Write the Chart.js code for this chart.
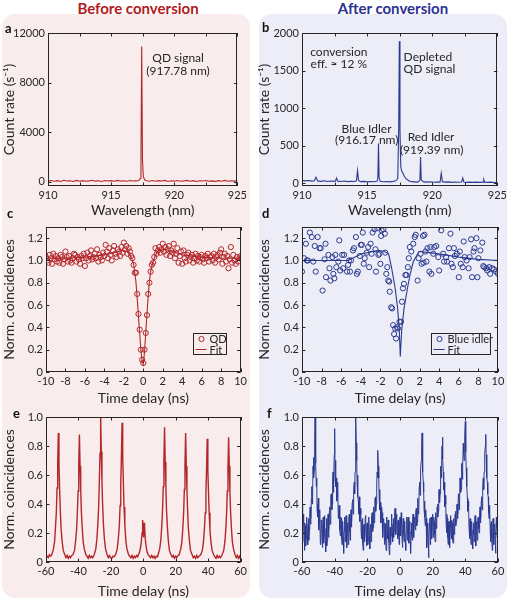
<!DOCTYPE html>
<html>
<head>
<meta charset="utf-8">
<script src="https://cdn.jsdelivr.net/npm/chart.js@4.4.1/dist/chart.umd.min.js"></script>
<style>
    body { margin: 0; background: #fff; }
    #fig { position: relative; width: 510px; height: 600px; overflow: hidden; font-family: Lato, sans-serif; }
    .panel { position: absolute; top: 14px; height: 584px; width: 248px; border-radius: 13px; }
    .head { position: absolute; top: -1px; width: 200px; text-align: center; font-weight: bold; font-size: 15px; line-height: 18px; }
    canvas { position: absolute; }
</style>
</head>
<body>
<div id="fig">
    <div class="panel" style="left:2px;background:#f8ecec"></div>
    <div class="panel" style="left:259px;background:#ecedf6"></div>
    <div class="head" style="left:38px;color:#b01c1e">Before conversion</div>
    <div class="head" style="left:293px;color:#2e3192">After conversion</div>
    <canvas id="spectrum-before" width="250" height="200" style="left:0;top:20px"></canvas>
    <canvas id="spectrum-after" width="254" height="200" style="left:256px;top:20px"></canvas>
    <canvas id="g2-qd" width="250" height="203" style="left:0;top:205px"></canvas>
    <canvas id="g2-idler" width="254" height="203" style="left:256px;top:205px"></canvas>
    <canvas id="hom-qd" width="250" height="200" style="left:0;top:400px"></canvas>
    <canvas id="hom-idler" width="254" height="200" style="left:256px;top:400px"></canvas>
</div>
<script>
'use strict';

// a: spectrum before conversion
const waveBefore = [910, 910.25, 910.5, 910.75, 911, 911.25, 911.5, 911.75, 912, 912.25, 912.5, 912.75,
    913, 913.25, 913.5, 913.75, 914, 914.25, 914.5, 914.75, 915, 915.25, 915.5, 915.75, 916, 916.25,
    916.5, 916.75, 917, 917.2, 917.3, 917.36, 917.42, 917.48, 917.55, 917.65, 917.8, 918, 918.25,
    918.5, 918.75, 919, 919.25, 919.5, 919.75, 920, 920.25, 920.5, 920.75, 921, 921.25, 921.5, 921.75,
    922, 922.25, 922.5, 922.75, 923, 923.25, 923.5, 923.75, 924, 924.25, 924.5, 924.75, 925];
const countBefore = [40, 90, 30, 80, 20, 110, 50, 70, 20, 100, 40, 80,
    30, 60, 110, 40, 70, 20, 90, 50, 80, 30, 100, 40, 70, 30,
    90, 50, 60, 90, 250, 1500, 10900, 1800, 400, 150, 80, 40, 90,
    30, 80, 50, 100, 20, 70, 40, 90, 30, 60, 100, 40, 80, 20,
    70, 50, 90, 30, 60, 20, 80, 40, 100, 30, 70, 40, 60];

// b: spectrum after conversion
const waveAfter = [910, 910.25, 910.5, 910.75, 910.95, 911.07, 911.2, 911.45, 911.7, 911.95, 912.2, 912.45,
    912.58, 912.65, 912.75, 913, 913.25, 913.5, 913.75, 914, 914.18, 914.26, 914.34, 914.5, 914.75,
    915, 915.25, 915.5, 915.75, 915.82, 915.87, 915.92, 916, 916.25, 916.5, 916.75, 917, 917.2,
    917.35, 917.42, 917.47, 917.52, 917.58, 917.65, 917.75, 917.85, 918, 918.2, 918.4, 918.65, 918.9,
    919.05, 919.1, 919.15, 919.35, 919.6, 919.85, 920.1, 920.35, 920.6, 920.69, 920.78, 921, 921.25,
    921.5, 921.75, 922, 922.25, 922.34, 922.42, 922.65, 922.9, 923.15, 923.4, 923.65, 923.9, 923.95,
    924.02, 924.25, 924.5, 924.75, 925];
const countAfter = [35, 28, 33, 25, 30, 75, 28, 22, 30, 20, 26, 22,
    30, 65, 25, 20, 26, 18, 24, 20, 30, 165, 35, 18, 22,
    15, 20, 16, 22, 60, 525, 70, 22, 16, 20, 15, 22, 30,
    60, 700, 1890, 700, 220, 160, 130, 90, 55, 30, 18, 15, 12,
    40, 345, 40, 15, 12, 16, 10, 14, 12, 130, 18, 12, 15,
    8, 13, 10, 14, 65, 12, 9, 12, 8, 11, 9, 12, 45,
    10, 8, 11, 7, 9];

// c: QD autocorrelation
const qdDelay = [
    -10, -9.875, -9.75, -9.625, -9.5, -9.375, -9.25, -9.125,
    -9, -8.875, -8.75, -8.625, -8.5, -8.375, -8.25, -8.125,
    -8, -7.875, -7.75, -7.625, -7.5, -7.375, -7.25, -7.125,
    -7, -6.875, -6.75, -6.625, -6.5, -6.375, -6.25, -6.125,
    -6, -5.875, -5.75, -5.625, -5.5, -5.375, -5.25, -5.125,
    -5, -4.875, -4.75, -4.625, -4.5, -4.375, -4.25, -4.125,
    -4, -3.875, -3.75, -3.625, -3.5, -3.375, -3.25, -3.125,
    -3, -2.875, -2.75, -2.625, -2.5, -2.375, -2.25, -2.125,
    -2, -1.875, -1.75, -1.625, -1.5, -1.375, -1.25, -1.125,
    -1, -0.875, -0.75, -0.625, -0.5, -0.375, -0.25, -0.125,
    0, 0.125, 0.25, 0.375, 0.5, 0.625, 0.75, 0.875,
    1, 1.125, 1.25, 1.375, 1.5, 1.625, 1.75, 1.875,
    2, 2.125, 2.25, 2.375, 2.5, 2.625, 2.75, 2.875,
    3, 3.125, 3.25, 3.375, 3.5, 3.625, 3.75, 3.875,
    4, 4.125, 4.25, 4.375, 4.5, 4.625, 4.75, 4.875,
    5, 5.125, 5.25, 5.375, 5.5, 5.625, 5.75, 5.875,
    6, 6.125, 6.25, 6.375, 6.5, 6.625, 6.75, 6.875,
    7, 7.125, 7.25, 7.375, 7.5, 7.625, 7.75, 7.875,
    8, 8.125, 8.25, 8.375, 8.5, 8.625, 8.75, 8.875,
    9, 9.125, 9.25, 9.375, 9.5, 9.625, 9.75, 9.875,
    10];
const qdCoinc = [
    1.03, 1.00, 0.98, 1.05, 1.02, 0.97, 1.06, 1.01,
    1.04, 0.99, 1.02, 0.98, 1.05, 1.03, 0.97, 1.01,
    1.08, 1.03, 0.99, 1.04, 1.00, 0.98, 1.02, 1.06,
    1.05, 0.99, 1.03, 1.01, 0.97, 1.04, 1.02, 1.06,
    0.95, 1.02, 1.07, 1.00, 1.04, 1.09, 1.01, 1.03,
    1.06, 1.02, 1.10, 0.99, 1.05, 1.03, 1.00, 1.07,
    1.04, 1.14, 1.08, 1.02, 1.11, 1.05, 1.00, 1.09,
    1.13, 1.06, 1.03, 1.10, 1.08, 1.04, 1.12, 1.07,
    1.16, 1.10, 1.13, 1.06, 1.11, 1.08, 1.04, 1.02,
    0.96, 0.89, 0.89, 0.70, 0.52, 0.38, 0.20, 0.11,
    0.08, 0.20, 0.35, 0.51, 0.70, 0.80, 0.90, 0.96,
    0.98, 1.03, 1.11, 1.06, 1.09, 1.12, 1.07, 1.10,
    1.15, 1.08, 1.12, 1.05, 1.10, 1.13, 1.04, 1.09,
    1.07, 1.15, 1.02, 1.06, 1.11, 0.98, 1.04, 1.08,
    0.97, 1.09, 1.02, 0.99, 1.05, 1.07, 1.00, 1.03,
    1.05, 0.98, 1.02, 1.06, 1.00, 1.04, 0.99, 1.03,
    1.05, 1.01, 0.98, 1.04, 1.02, 1.06, 0.99, 1.03,
    1.04, 1.00, 1.06, 0.98, 1.03, 1.05, 1.01, 1.07,
    1.10, 0.97, 1.03, 1.06, 0.99, 1.04, 0.93, 1.01,
    1.12, 0.98, 1.05, 1.00, 0.97, 1.03, 0.99, 1.02,
    1.04];
const qdFitDelay = [-10, -8, -6, -4, -3, -2.2, -1.6, -1.25, -1, -0.875, -0.75, -0.625, -0.5, -0.375,
    -0.25, -0.125, 0, 0.125, 0.25, 0.375, 0.5, 0.625, 0.75, 0.875, 1, 1.25, 1.6, 2.2, 3, 4, 6, 8, 10];
const qdFit = [1.02, 1.02, 1.03, 1.05, 1.07, 1.09, 1.08, 1.03, 0.97, 0.89, 0.80, 0.66, 0.50, 0.35,
    0.20, 0.10, 0.07, 0.18, 0.35, 0.52, 0.68, 0.81, 0.90, 0.95, 0.99, 1.05, 1.09, 1.10, 1.08, 1.05, 1.03, 1.02, 1.02];

// d: blue idler autocorrelation
const idlerDelay = [-10, -9.8, -9.6, -9.5, -9.4, -9.2, -9, -8.85, -8.7, -8.6, -8.4, -8.2, -8.1,
    -7.9, -7.7, -7.6, -7.55, -7.3, -7.2, -7.1, -6.9, -6.8, -6.7, -6.6, -6.5, -6.3, -6.2, -6.1,
    -5.9, -5.8, -5.7, -5.4, -5.3, -5.2, -5.1, -5, -4.8, -4.7, -4.5, -4.4, -4.3, -4.1, -4, -3.9,
    -3.8, -3.7, -3.6, -3.4, -3.25, -3.15, -3, -2.9, -2.8, -2.6, -2.5, -2.45, -2.3, -2.2, -2.1, -2,
    -1.92, -1.88, -1.7, -1.55, -1.5, -1.4, -1.3, -1.2, -1.1, -1.05, -0.9, -0.8, -0.7, -0.6, -0.5,
    -0.4, -0.3, -0.2, -0.05, 0.1, 0.2, 0.3, 0.4, 0.55, 0.65, 0.8, 0.9, 1, 1.15, 1.35, 1.5, 1.6,
    1.8, 1.9, 2.1, 2.2, 2.35, 2.4, 2.5, 2.6, 2.7, 2.8, 3, 3.1, 3.2, 3.4, 3.5, 3.7, 3.9, 4, 4.2,
    4.4, 4.5, 4.7, 4.8, 5, 5.15, 5.25, 5.4, 5.5, 5.6, 5.8, 6, 6.1, 6.2, 6.4, 6.5, 6.6, 6.8, 7,
    7.1, 7.25, 7.35, 7.5, 7.6, 7.8, 7.9, 8, 8.2, 8.4, 8.5, 8.6, 8.8, 8.9, 9.1, 9.2, 9.4, 9.6, 9.8, 10];
const idlerCoinc = [0.90, 1.02, 1.15, 1.00, 1.00, 1.25, 1.21, 0.99, 1.13, 0.90, 1.21, 1.11, 1.11,
    0.73, 1.01, 1.15, 0.85, 1.05, 0.93, 0.82, 1.03, 0.88, 0.84, 1.05, 0.94, 0.99, 1.18, 0.91,
    1.05, 0.93, 1.05, 0.90, 0.96, 1.00, 0.90, 1.00, 1.09, 1.11, 1.21, 0.88, 0.90, 1.04, 1.14, 1.14,
    1.25, 0.97, 1.02, 1.07, 1.12, 0.94, 1.15, 1.06, 1.25, 1.28, 1.10, 0.90, 1.29, 1.05, 1.06, 0.97,
    1.22, 1.27, 1.28, 1.24, 1.07, 0.88, 0.94, 0.82, 0.81, 0.72, 0.58, 0.57, 0.42, 0.34, 0.39,
    0.30, 0.40, 0.39, 0.45, 0.45, 0.63, 0.75, 0.79, 0.87, 0.87, 0.94, 1.02, 1.12, 1.08, 1.15, 1.21, 1.23,
    0.82, 1.02, 1.06, 0.97, 1.22, 0.98, 1.23, 1.08, 0.99, 1.11, 0.90, 1.12, 0.88, 1.06, 1.12, 1.13, 1.03, 0.91, 1.27,
    1.06, 0.99, 1.03, 0.99, 1.11, 1.24, 0.97, 0.94, 1.11, 1.04, 1.06, 0.85, 1.08, 0.97, 0.94, 1.17, 1.03, 1.00, 0.93,
    1.03, 1.19, 0.85, 1.08, 1.11, 1.20, 0.85, 1.02, 1.09, 1.16, 0.95, 0.94, 0.93, 0.91, 0.94, 0.88, 0.93, 0.92, 0.90, 0.88];
const idlerFitDelay = [-10, -7, -5.3, -3.9, -2.2, -1.6, -1.16, -0.85, -0.51, -0.24, -0.07, 0.03, 0.17,
    0.41, 0.78, 1.02, 1.36, 1.94, 3, 4.6, 6, 8, 10];
const idlerFit = [1.0, 1.0, 1.0, 1.06, 1.09, 1.08, 1.06, 0.93, 0.76, 0.57, 0.37, 0.14, 0.37,
    0.57, 0.76, 0.87, 0.99, 1.08, 1.07, 1.05, 1.03, 1.01, 1.0];

// e: QD two-photon interference
const homDelayQd = [-60, -59.3, -58.6, -57.9, -57.2,
    -56.4, -55.4, -54.7, -54.1, -53.6, -53.2, -52.8, -52.4, -52, -51.6, -51.2, -50.7, -50.1, -49.4, -48.4,
    -47.7, -47, -46.3, -45.6, -44.9, -44.2,
    -43.4, -42.4, -41.7, -41.1, -40.6, -40.2, -39.8, -39.4, -39, -38.6, -38.2, -37.7, -37.1, -36.4, -35.4,
    -34.7, -34, -33.3, -32.6, -31.9, -31.2,
    -30.3, -29.3, -28.6, -28, -27.5, -27.1, -26.7, -26.3, -25.9, -25.5, -25.1, -24.6, -24, -23.3, -22.3,
    -21.6, -20.9, -20.2, -19.5, -18.8, -18.1,
    -17.1, -16.1, -15.4, -14.8, -14.3, -13.9, -13.5, -13.1, -12.7, -12.3, -11.9, -11.4, -10.8, -10.1, -9.1,
    -8.4, -7.7, -7, -6.3, -5.6, -4.9, -4.2, -3.5,
    -3, -2.3, -1.7, -1.2, -0.8, -0.4, -0.1, 0.2, 0.5, 0.8, 1.2, 1.7, 2.3, 3, 3.8,
    4.5, 5.2, 5.9, 6.6, 7.3, 8, 8.7,
    9.1, 10.1, 10.8, 11.4, 11.9, 12.3, 12.7, 13.1, 13.5, 13.9, 14.3, 14.8, 15.4, 16.1, 17.1,
    17.8, 18.5, 19.2, 19.9, 20.6, 21.3,
    22.1, 23.1, 23.8, 24.4, 24.9, 25.3, 25.7, 26.1, 26.5, 26.9, 27.3, 27.8, 28.4, 29.1, 30.1,
    30.8, 31.5, 32.2, 32.9, 33.6, 34.3,
    35.4, 36.4, 37.1, 37.7, 38.2, 38.6, 39, 39.4, 39.8, 40.2, 40.6, 41.1, 41.7, 42.4, 43.4,
    44.1, 44.8, 45.5, 46.2, 46.9, 47.6,
    48.6, 49.6, 50.3, 50.9, 51.4, 51.8, 52.2, 52.6, 53, 53.4, 53.8, 54.3, 54.9, 55.6, 56.6,
    57.3, 58, 58.7, 59.4, 60];
const homCoincQd = [0.03, 0.04, 0.03, 0.05, 0.04,
    0.05, 0.09, 0.14, 0.25, 0.35, 0.51, 0.67, 0.89, 0.68, 0.50, 0.36, 0.23, 0.15, 0.08, 0.05,
    0.03, 0.045, 0.025, 0.04, 0.03, 0.045,
    0.05, 0.08, 0.15, 0.23, 0.36, 0.49, 0.67, 0.88, 0.66, 0.50, 0.35, 0.24, 0.14, 0.09, 0.05,
    0.04, 0.025, 0.045, 0.03, 0.04, 0.03,
    0.05, 0.09, 0.16, 0.27, 0.39, 0.56, 0.75, 1.0, 0.76, 0.55, 0.40, 0.26, 0.16, 0.09, 0.05,
    0.03, 0.045, 0.03, 0.025, 0.04, 0.035,
    0.05, 0.09, 0.16, 0.25, 0.39, 0.54, 0.73, 0.96, 0.72, 0.55, 0.38, 0.26, 0.15, 0.09, 0.05,
    0.04, 0.03, 0.045, 0.025, 0.04, 0.03, 0.045, 0.035,
    0.05, 0.07, 0.10, 0.14, 0.20, 0.29, 0.20, 0.17, 0.27, 0.24, 0.16, 0.11, 0.07, 0.05, 0.04,
    0.03, 0.045, 0.03, 0.04, 0.025, 0.04, 0.035,
    0.05, 0.09, 0.15, 0.25, 0.37, 0.52, 0.70, 0.93, 0.69, 0.53, 0.36, 0.25, 0.15, 0.08, 0.05,
    0.035, 0.045, 0.025, 0.04, 0.03, 0.045,
    0.05, 0.09, 0.14, 0.24, 0.35, 0.50, 0.67, 0.89, 0.66, 0.50, 0.36, 0.23, 0.15, 0.08, 0.05,
    0.03, 0.04, 0.025, 0.045, 0.03, 0.04,
    0.05, 0.08, 0.14, 0.23, 0.34, 0.48, 0.64, 0.85, 0.63, 0.48, 0.34, 0.22, 0.14, 0.08, 0.05,
    0.035, 0.025, 0.045, 0.03, 0.04, 0.03,
    0.05, 0.08, 0.14, 0.23, 0.35, 0.49, 0.65, 0.86, 0.66, 0.48, 0.35, 0.24, 0.14, 0.09, 0.05,
    0.03, 0.045, 0.025, 0.04, 0.02];

// f: blue idler two-photon interference (0.25 ns bins)
const homDelayIdler = [
    -60, -59.75, -59.5, -59.25, -59, -58.75, -58.5, -58.25, -58, -57.75, -57.5, -57.25, -57, -56.75, -56.5, -56.25, -56, -55.75, -55.5, -55.25,
    -55, -54.75, -54.5, -54.25, -54, -53.75, -53.5, -53.25, -53, -52.75, -52.5, -52.25, -52, -51.75, -51.5, -51.25, -51, -50.75, -50.5, -50.25,
    -50, -49.75, -49.5, -49.25, -49, -48.75, -48.5, -48.25, -48, -47.75, -47.5, -47.25, -47, -46.75, -46.5, -46.25, -46, -45.75, -45.5, -45.25,
    -45, -44.75, -44.5, -44.25, -44, -43.75, -43.5, -43.25, -43, -42.75, -42.5, -42.25, -42, -41.75, -41.5, -41.25, -41, -40.75, -40.5, -40.25,
    -40, -39.75, -39.5, -39.25, -39, -38.75, -38.5, -38.25, -38, -37.75, -37.5, -37.25, -37, -36.75, -36.5, -36.25, -36, -35.75, -35.5, -35.25,
    -35, -34.75, -34.5, -34.25, -34, -33.75, -33.5, -33.25, -33, -32.75, -32.5, -32.25, -32, -31.75, -31.5, -31.25, -31, -30.75, -30.5, -30.25,
    -30, -29.75, -29.5, -29.25, -29, -28.75, -28.5, -28.25, -28, -27.75, -27.5, -27.25, -27, -26.75, -26.5, -26.25, -26, -25.75, -25.5, -25.25,
    -25, -24.75, -24.5, -24.25, -24, -23.75, -23.5, -23.25, -23, -22.75, -22.5, -22.25, -22, -21.75, -21.5, -21.25, -21, -20.75, -20.5, -20.25,
    -20, -19.75, -19.5, -19.25, -19, -18.75, -18.5, -18.25, -18, -17.75, -17.5, -17.25, -17, -16.75, -16.5, -16.25, -16, -15.75, -15.5, -15.25,
    -15, -14.75, -14.5, -14.25, -14, -13.75, -13.5, -13.25, -13, -12.75, -12.5, -12.25, -12, -11.75, -11.5, -11.25, -11, -10.75, -10.5, -10.25,
    -10, -9.75, -9.5, -9.25, -9, -8.75, -8.5, -8.25, -8, -7.75, -7.5, -7.25, -7, -6.75, -6.5, -6.25, -6, -5.75, -5.5, -5.25,
    -5, -4.75, -4.5, -4.25, -4, -3.75, -3.5, -3.25, -3, -2.75, -2.5, -2.25, -2, -1.75, -1.5, -1.25, -1, -0.75, -0.5, -0.25,
    0, 0.25, 0.5, 0.75, 1, 1.25, 1.5, 1.75, 2, 2.25, 2.5, 2.75, 3, 3.25, 3.5, 3.75, 4, 4.25, 4.5, 4.75,
    5, 5.25, 5.5, 5.75, 6, 6.25, 6.5, 6.75, 7, 7.25, 7.5, 7.75, 8, 8.25, 8.5, 8.75, 9, 9.25, 9.5, 9.75,
    10, 10.25, 10.5, 10.75, 11, 11.25, 11.5, 11.75, 12, 12.25, 12.5, 12.75, 13, 13.25, 13.5, 13.75, 14, 14.25, 14.5, 14.75,
    15, 15.25, 15.5, 15.75, 16, 16.25, 16.5, 16.75, 17, 17.25, 17.5, 17.75, 18, 18.25, 18.5, 18.75, 19, 19.25, 19.5, 19.75,
    20, 20.25, 20.5, 20.75, 21, 21.25, 21.5, 21.75, 22, 22.25, 22.5, 22.75, 23, 23.25, 23.5, 23.75, 24, 24.25, 24.5, 24.75,
    25, 25.25, 25.5, 25.75, 26, 26.25, 26.5, 26.75, 27, 27.25, 27.5, 27.75, 28, 28.25, 28.5, 28.75, 29, 29.25, 29.5, 29.75,
    30, 30.25, 30.5, 30.75, 31, 31.25, 31.5, 31.75, 32, 32.25, 32.5, 32.75, 33, 33.25, 33.5, 33.75, 34, 34.25, 34.5, 34.75,
    35, 35.25, 35.5, 35.75, 36, 36.25, 36.5, 36.75, 37, 37.25, 37.5, 37.75, 38, 38.25, 38.5, 38.75, 39, 39.25, 39.5, 39.75,
    40, 40.25, 40.5, 40.75, 41, 41.25, 41.5, 41.75, 42, 42.25, 42.5, 42.75, 43, 43.25, 43.5, 43.75, 44, 44.25, 44.5, 44.75,
    45, 45.25, 45.5, 45.75, 46, 46.25, 46.5, 46.75, 47, 47.25, 47.5, 47.75, 48, 48.25, 48.5, 48.75, 49, 49.25, 49.5, 49.75,
    50, 50.25, 50.5, 50.75, 51, 51.25, 51.5, 51.75, 52, 52.25, 52.5, 52.75, 53, 53.25, 53.5, 53.75, 54, 54.25, 54.5, 54.75,
    55, 55.25, 55.5, 55.75, 56, 56.25, 56.5, 56.75, 57, 57.25, 57.5, 57.75, 58, 58.25, 58.5, 58.75, 59, 59.25, 59.5, 59.75,
    60];
const homCoincIdler = [
    0.40, 0.22, 0.14, 0.33, 0.28, 0.19, 0.08, 0.27, 0.25, 0.11, 0.16, 0.29, 0.31, 0.18, 0.12, 0.26, 0.30, 0.15, 0.22, 0.34,
    0.38, 0.26, 0.30, 0.44, 0.52, 0.40, 0.45, 0.66, 0.72, 0.58, 0.63, 0.80, 1.00, 0.74, 0.68, 0.52, 0.58, 0.36, 0.40, 0.31,
    0.44, 0.22, 0.27, 0.36, 0.32, 0.12, 0.15, 0.29, 0.28, 0.17, 0.10, 0.25, 0.31, 0.13, 0.18, 0.32, 0.24, 0.14, 0.07, 0.23,
    0.30, 0.11, 0.15, 0.29, 0.33, 0.17, 0.22, 0.35, 0.38, 0.26, 0.30, 0.46, 0.47, 0.36, 0.40, 0.57, 0.62, 0.48, 0.55, 0.74,
    0.92, 0.62, 0.70, 0.52, 0.58, 0.42, 0.45, 0.55, 0.50, 0.30, 0.33, 0.39, 0.36, 0.22, 0.18, 0.31, 0.30, 0.16, 0.12, 0.27,
    0.28, 0.17, 0.06, 0.21, 0.25, 0.31, 0.14, 0.26, 0.32, 0.18, 0.10, 0.24, 0.27, 0.12, 0.19, 0.30, 0.33, 0.21, 0.15, 0.28,
    0.36, 0.24, 0.28, 0.41, 0.43, 0.33, 0.38, 0.50, 0.55, 0.47, 0.62, 0.78, 1.00, 0.82, 0.70, 0.54, 0.60, 0.45, 0.42, 0.33,
    0.45, 0.30, 0.28, 0.37, 0.33, 0.20, 0.16, 0.29, 0.30, 0.13, 0.08, 0.24, 0.26, 0.14, 0.17, 0.31, 0.32, 0.19, 0.11, 0.25,
    0.27, 0.12, 0.15, 0.30, 0.31, 0.18, 0.09, 0.23, 0.26, 0.14, 0.20, 0.32, 0.34, 0.21, 0.24, 0.36, 0.38, 0.27, 0.30, 0.44,
    0.45, 0.35, 0.40, 0.53, 0.62, 0.58, 0.77, 0.66, 0.58, 0.44, 0.50, 0.36, 0.41, 0.27, 0.30, 0.38, 0.34, 0.21, 0.17, 0.29,
    0.30, 0.19, 0.12, 0.27, 0.26, 0.15, 0.08, 0.22, 0.31, 0.20, 0.16, 0.29, 0.28, 0.14, 0.05, 0.21, 0.24, 0.12, 0.18, 0.30,
    0.33, 0.20, 0.14, 0.26, 0.30, 0.17, 0.22, 0.35, 0.37, 0.24, 0.19, 0.31, 0.33, 0.21, 0.16, 0.28, 0.29, 0.18, 0.12, 0.24,
    0.31, 0.22, 0.18, 0.34, 0.27, 0.16, 0.10, 0.23, 0.30, 0.19, 0.14, 0.28, 0.26, 0.13, 0.08, 0.20, 0.24, 0.31, 0.15, 0.27,
    0.31, 0.19, 0.13, 0.25, 0.28, 0.14, 0.06, 0.21, 0.27, 0.18, 0.15, 0.29, 0.33, 0.20, 0.17, 0.31, 0.30, 0.24, 0.22, 0.35,
    0.37, 0.25, 0.28, 0.40, 0.44, 0.33, 0.35, 0.52, 0.55, 0.46, 0.50, 0.64, 0.70, 0.78, 0.89, 0.72, 0.62, 0.55, 0.48, 0.36,
    0.42, 0.31, 0.25, 0.36, 0.30, 0.18, 0.10, 0.24, 0.27, 0.14, 0.03, 0.19, 0.25, 0.30, 0.12, 0.22, 0.31, 0.20, 0.16, 0.28,
    0.33, 0.17, 0.20, 0.31, 0.28, 0.19, 0.14, 0.27, 0.34, 0.23, 0.28, 0.38, 0.40, 0.31, 0.35, 0.48, 0.50, 0.41, 0.47, 0.60,
    0.66, 0.58, 0.70, 0.80, 0.86, 0.71, 0.62, 0.50, 0.55, 0.43, 0.38, 0.46, 0.40, 0.26, 0.20, 0.33, 0.30, 0.17, 0.12, 0.26,
    0.28, 0.18, 0.10, 0.24, 0.32, 0.20, 0.16, 0.29, 0.27, 0.15, 0.13, 0.26, 0.30, 0.19, 0.22, 0.33, 0.35, 0.25, 0.28, 0.39,
    0.40, 0.30, 0.33, 0.47, 0.45, 0.36, 0.42, 0.58, 0.55, 0.48, 0.50, 0.68, 0.63, 0.57, 0.66, 0.82, 0.75, 0.70, 0.80, 0.88,
    0.97, 0.76, 0.65, 0.58, 0.52, 0.44, 0.35, 0.42, 0.38, 0.25, 0.16, 0.28, 0.30, 0.18, 0.12, 0.24, 0.28, 0.16, 0.09, 0.22,
    0.27, 0.19, 0.14, 0.29, 0.32, 0.21, 0.11, 0.24, 0.28, 0.15, 0.17, 0.30, 0.31, 0.23, 0.20, 0.34, 0.38, 0.27, 0.30, 0.42,
    0.45, 0.36, 0.40, 0.52, 0.58, 0.50, 0.62, 0.70, 0.75, 0.80, 0.88, 0.74, 0.66, 0.58, 0.55, 0.47, 0.45, 0.34, 0.30, 0.39,
    0.35, 0.22, 0.14, 0.27, 0.28, 0.17, 0.08, 0.21, 0.30, 0.19, 0.12, 0.25, 0.26, 0.15, 0.06, 0.20, 0.31, 0.24, 0.17, 0.29,
    0.25];

// tick positions
const waveTicks = [910, 912.5, 915, 917.5, 920, 922.5, 925];
const countTicksBefore = [0, 4000, 8000, 12000];
const countTicksAfter = [0, 500, 1000, 1500, 2000];
const shortDelayTicks = [-10, -8, -6, -4, -2, 0, 2, 4, 6, 8, 10];
const g2Ticks = [0, 0.2, 0.4, 0.6, 0.8, 1.0, 1.2];
const longDelayTicks = [-60, -40, -20, 0, 20, 40, 60];
const homTicks = [0, 0.2, 0.4, 0.6, 0.8, 1.0];

const ink = '#262626';
const red = '#b3262a';
const blue = '#2b3990';

Chart.defaults.font.family = 'Lato, "Open Sans", sans-serif';
Chart.defaults.color = ink;

const boxFrame = {
    id: 'boxFrame',
    afterDatasetsDraw(chart, args, opts) {
        const ctx = chart.ctx;
        const area = chart.chartArea;
        const xs = chart.scales.x;
        const ys = chart.scales.y;
        ctx.save();
        ctx.strokeStyle = ink;
        ctx.lineWidth = 1;
        ctx.beginPath();
        xs.ticks.forEach(t => {
            const px = Math.round(xs.getPixelForValue(t.value)) + 0.5;
            ctx.moveTo(px, area.bottom);
            ctx.lineTo(px, area.bottom - 3.5);
            ctx.moveTo(px, area.top);
            ctx.lineTo(px, area.top + 3.5);
        });
        ys.ticks.forEach(t => {
            const py = Math.round(ys.getPixelForValue(t.value)) + 0.5;
            ctx.moveTo(area.left, py);
            ctx.lineTo(area.left + 3.5, py);
            ctx.moveTo(area.right, py);
            ctx.lineTo(area.right - 3.5, py);
        });
        ctx.stroke();
        ctx.strokeRect(Math.round(area.left) + 0.5, Math.round(area.top) + 0.5,
            Math.round(area.width) - 1, Math.round(area.height) - 1);

        ctx.fillStyle = ink;
        ctx.font = '12px Lato, sans-serif';
        ctx.textBaseline = 'middle';
        (opts.notes || []).forEach(n => {
            ctx.textAlign = n.align || 'center';
            ctx.fillText(n.text, xs.getPixelForValue(n.x), ys.getPixelForValue(n.y));
        });

        const lg = opts.legend;
        if (lg) {
            const bx = Math.round(area.right - lg.right - lg.width) + 0.5;
            const by = Math.round(area.bottom - lg.bottom - lg.height) + 0.5;
            ctx.fillStyle = lg.fill;
            ctx.fillRect(bx, by, lg.width, lg.height);
            ctx.strokeStyle = ink;
            ctx.strokeRect(bx, by, lg.width, lg.height);
            ctx.font = '11px Lato, sans-serif';
            ctx.textAlign = 'left';
            lg.items.forEach((it, i) => {
                const ry = by + 5.5 + i * 10.5;
                ctx.strokeStyle = lg.color;
                ctx.beginPath();
                if (it.marker) {
                    ctx.arc(bx + 8, ry, 2.6, 0, Math.PI * 2);
                } else {
                    ctx.moveTo(bx + 2, ry);
                    ctx.lineTo(bx + 13, ry);
                }
                ctx.stroke();
                ctx.fillStyle = ink;
                ctx.fillText(it.text, bx + 16, ry + 0.5);
            });
        }

        if (opts.letter) {
            ctx.font = 'bold 13px Lato, sans-serif';
            ctx.textAlign = 'left';
            ctx.textBaseline = 'alphabetic';
            ctx.fillStyle = '#111';
            ctx.fillText(opts.letter.text, opts.letter.x, opts.letter.y);
        }
        ctx.restore();
    },
};

function axis(kind, min, max, ticks, label, size, fmt, titlePad) {
    return {
        type: 'linear',
        min: min,
        max: max,
        grid: {display: false, drawTicks: false},
        border: {display: false},
        afterBuildTicks: function (scale) {
            scale.ticks = ticks.map(v => ({value: v}));
        },
        afterFit: function (scale) {
            if (kind === 'x') {
                scale.height = size;
            } else {
                scale.width = size;
            }
        },
        ticks: {autoSkip: false, maxRotation: 0, padding: 3, font: {size: 11}, callback: fmt},
        title: {display: true, text: label, font: {size: 14}, padding: titlePad},
    };
}

function trace(xs, ys, color, width) {
    return {
        data: xs.map((v, i) => ({x: v, y: ys[i]})),
        borderColor: color,
        borderWidth: width,
        pointRadius: 0,
        tension: 0,
        fill: false,
    };
}

function circles(xs, ys, color) {
    return {
        data: xs.map((v, i) => ({x: v, y: ys[i]})),
        showLine: false,
        borderColor: color,
        pointRadius: 2.6,
        pointBorderWidth: 1,
        pointBorderColor: color,
        pointBackgroundColor: 'rgba(0,0,0,0)',
    };
}

function makePlot(id, datasets, xAxis, yAxis, pad, frame) {
    return new Chart(document.getElementById(id), {
        type: 'line',
        data: {datasets: datasets},
        options: {
            responsive: false,
            animation: false,
            devicePixelRatio: 1,
            events: [],
            layout: {padding: pad},
            scales: {x: xAxis, y: yAxis},
            plugins: {legend: {display: false}, tooltip: {enabled: false}, boxFrame: frame},
        },
        plugins: [boxFrame],
    });
}

const waveLabel = v => (v % 5 === 0 ? String(v) : '');
const plainLabel = v => String(v);
const decLabel = v => (v === 0 ? '0' : v.toFixed(1));

makePlot('spectrum-before', [trace(waveBefore, countBefore, red, 1.1)],
    axis('x', 910, 925, waveTicks, 'Wavelength (nm)', 34, waveLabel, {top: 0, bottom: 1.6}),
    axis('y', -350, 12000, countTicksBefore, 'Count rate (s\u207B\u00B9)', 48, plainLabel, {top: 1, bottom: 0}),
    {top: 13, right: 12, left: 0, bottom: 0},
    {
        letter: {text: 'a', x: 5, y: 13},
        notes: [
            {text: 'QD signal', x: 920.3, y: 9990},
            {text: '(917.78 nm)', x: 920.3, y: 8940},
        ],
    });

makePlot('spectrum-after', [trace(waveAfter, countAfter, blue, 1.1)],
    axis('x', 910, 925, waveTicks, 'Wavelength (nm)', 34, waveLabel, {top: 0, bottom: 1.6}),
    axis('y', -40, 2000, countTicksAfter, 'Count rate (s\u207B\u00B9)', 46, plainLabel, {top: 0, bottom: 0}),
    {top: 13, right: 12, left: 0, bottom: 0},
    {
        letter: {text: 'b', x: 6, y: 12},
        notes: [
            {text: 'conversion', x: 912.83, y: 1750},
            {text: 'eff. \u2248 12 %', x: 912.83, y: 1590},
            {text: 'Depleted', x: 917.8, y: 1684, align: 'left'},
            {text: 'QD signal', x: 917.8, y: 1524, align: 'left'},
            {text: 'Blue Idler', x: 914.95, y: 724},
            {text: '(916.17 nm)', x: 914.97, y: 577},
            {text: 'Red Idler', x: 919.9, y: 611},
            {text: '(919.39 nm)', x: 919.95, y: 444},
        ],
    });

makePlot('g2-qd', [circles(qdDelay, qdCoinc, red), trace(qdFitDelay, qdFit, red, 1.1)],
    axis('x', -10, 10, shortDelayTicks, 'Time delay (ns)', 36, plainLabel, {top: 0, bottom: 1.6}),
    axis('y', 0, 1.3, g2Ticks, 'Norm. coincidences', 46, decLabel, {top: 1, bottom: 0}),
    {top: 22, right: 8, left: 0, bottom: 0},
    {
        letter: {text: 'c', x: 7, y: 13},
        legend: {right: 15, bottom: 18, width: 33, height: 21, color: red, fill: '#f8ecec',
            items: [{text: 'QD', marker: true}, {text: 'Fit', marker: false}]},
    });

makePlot('g2-idler', [circles(idlerDelay, idlerCoinc, blue), trace(idlerFitDelay, idlerFit, blue, 1.1)],
    axis('x', -10, 10, shortDelayTicks, 'Time delay (ns)', 36, plainLabel, {top: 0, bottom: 1.6}),
    axis('y', 0, 1.3, g2Ticks, 'Norm. coincidences', 46, decLabel, {top: 0, bottom: 0}),
    {top: 22, right: 12, left: 0, bottom: 0},
    {
        letter: {text: 'd', x: 6, y: 13},
        legend: {right: 8, bottom: 18, width: 59, height: 21, color: blue, fill: '#ecedf6',
            items: [{text: 'Blue idler', marker: true}, {text: 'Fit', marker: false}]},
    });

makePlot('hom-qd', [trace(homDelayQd, homCoincQd, red, 1.4)],
    axis('x', -60, 60, longDelayTicks, 'Time delay (ns)', 38, plainLabel, {top: 0, bottom: 0.6}),
    axis('y', 0, 1, homTicks, 'Norm. coincidences', 46, decLabel, {top: 0.6, bottom: 0}),
    {top: 17, right: 8, left: 0, bottom: 0},
    {letter: {text: 'e', x: 13, y: 18}});

makePlot('hom-idler', [trace(homDelayIdler, homCoincIdler, blue, 1)],
    axis('x', -60, 60, longDelayTicks, 'Time delay (ns)', 38, plainLabel, {top: 0, bottom: 0.6}),
    axis('y', 0, 1, homTicks, 'Norm. coincidences', 46, decLabel, {top: 0, bottom: 0}),
    {top: 17, right: 12, left: 0, bottom: 0},
    {letter: {text: 'f', x: 11, y: 18}});
</script>
</body>
</html>
